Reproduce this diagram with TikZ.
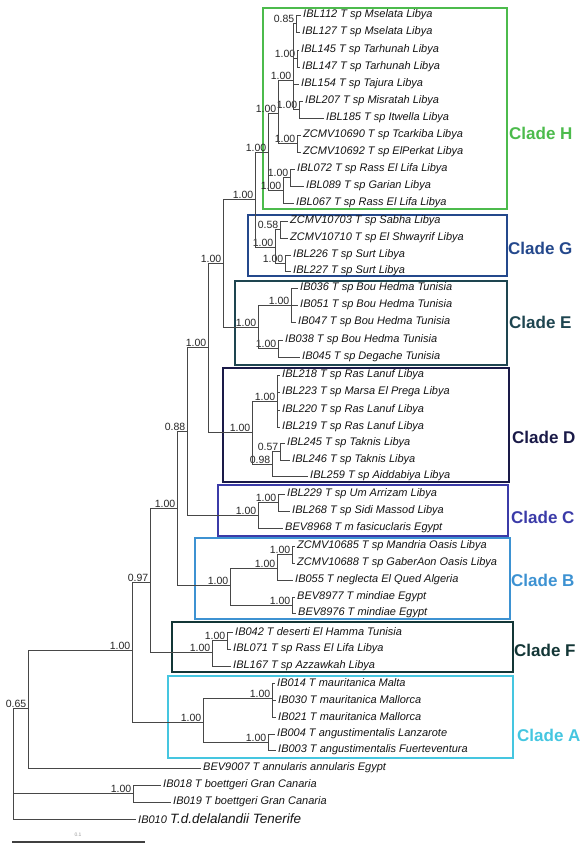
\documentclass[tikz,border=0pt]{standalone}
\usepackage{fontspec}
\setmainfont{Liberation Sans}
\usepackage{tikz}
\usepackage{xcolor}

\definecolor{cladeH}{HTML}{4CBB4C}
\definecolor{cladeG}{HTML}{24488C}
\definecolor{cladeE}{HTML}{1E4550}
\definecolor{cladeD}{HTML}{1A1A48}
\definecolor{cladeC}{HTML}{3B3BA8}
\definecolor{cladeB}{HTML}{3D92D2}
\definecolor{cladeF}{HTML}{133636}
\definecolor{cladeA}{HTML}{45C6E0}

\begin{document}
\begin{tikzpicture}[
    x=1pt, y=-1pt,
    leaf/.style={anchor=west, inner sep=2pt, font=\fontsize{11}{12}\selectfont\itshape, text=black!92},
    support/.style={anchor=south east, inner sep=0.5pt, xshift=-1pt, font=\fontsize{10.5}{11}\selectfont, text=black!85},
    branch/.style={draw=black!72, line width=0.9pt},
    cladebox/.style={draw, line width=1.8pt},
    cladename/.style={anchor=west, inner sep=0pt, font=\fontsize{17}{19}\selectfont\bfseries}
]
\useasboundingbox (0,0) rectangle (582,844);

% clade boxes
\draw[cladebox, cladeH] (263,8) rectangle (507,209);
\draw[cladebox, cladeG] (248,215) rectangle (507,276);
\draw[cladebox, cladeE] (235,281) rectangle (507,365);
\draw[cladebox, cladeD] (223,368) rectangle (509,482);
\draw[cladebox, cladeC] (218,485) rectangle (508,536);
\draw[cladebox, cladeB] (195,538) rectangle (510,619);
\draw[cladebox, cladeF] (172,622) rectangle (513,672);
\draw[cladebox, cladeA] (168,676) rectangle (513,758);

% internal nodes with posterior support
\foreach \n/\x/\y/\v in {root/13/763/{}, n065/28/708/0.65, n100a/132/650/1.00, n097/150/582/0.97,
    n100b/177/508/1.00, n088/187/431/0.88, n100c/208/347/1.00, n100d/223/263/1.00, n100e/255/199/1.00,
    hroot/268/152/1.00, h1/278/113/1.00, h1a/293/80/1.00, hp/296/23.5/0.85, hq/297/58.5/1.00,
    hr/299/109.5/1.00, hz/297/143.5/1.00, h2/283/190.5/1.00, hs/290/177.5/1.00,
    groot/275/247/1.00, ga/280/229.5/0.58, gb/285/263/1.00,
    eroot/258/327/1.00, ea/291/305/1.00, eb/278/348.5/1.00,
    droot/252/432/1.00, da/277/401/1.00, db/272/464/0.98, dc/280/451.5/0.57,
    croot/258/515/1.00, ca/278/502.5/1.00,
    broot/230/585/1.00, ba/277/568/1.00, bc/292/554.5/1.00, bb/292/605/1.00,
    froot/212/652/1.00, fa/227/640/1.00,
    aroot/203/722/1.00, aa/272/698/1.00, ab/268/742/1.00, kb/133/793.5/1.00}
{
    \coordinate (\n) at (\x,\y);
    \node[support] (s-\n) at (\n) {\v};
}

% leaves
\foreach \n/\x/\y/\t in {ibl112/301/15/{IBL112 T sp Mselata Libya}, ibl127/300/32/{IBL127 T sp Mselata Libya},
    ibl145/299/50/{IBL145 T sp Tarhunah Libya}, ibl147/300/67/{IBL147 T sp Tarhunah Libya},
    ibl154/299/84/{IBL154 T sp Tajura Libya}, ibl207/303/101/{IBL207 T sp Misratah Libya},
    ibl185/324/118/{IBL185 T sp Itwella Libya}, zc10690/301/135/{ZCMV10690 T sp Tcarkiba Libya},
    zc10692/301/152/{ZCMV10692 T sp ElPerkat Libya}, ibl072/295/169/{IBL072 T sp Rass El Lifa Libya},
    ibl089/304/186/{IBL089 T sp Garian Libya}, ibl067/294/203/{IBL067 T sp Rass El Lifa Libya},
    zc10703/288/221/{ZCMV10703 T sp Sabha Libya}, zc10710/288/238/{ZCMV10710 T sp El Shwayrif Libya},
    ibl226/291/255/{IBL226 T sp Surt Libya}, ibl227/291/271/{IBL227 T sp Surt Libya},
    ib036/298/288/{IB036 T sp Bou Hedma Tunisia}, ib051/298/305/{IB051 T sp Bou Hedma Tunisia},
    ib047/296/322/{IB047 T sp Bou Hedma Tunisia}, ib038/283/340/{IB038 T sp Bou Hedma Tunisia},
    ib045/300/357/{IB045 T sp Degache Tunisia}, ibl218/280/375/{IBL218 T sp Ras Lanuf Libya},
    ibl223/280/392/{IBL223 T sp Marsa El Prega Libya}, ibl220/280/410/{IBL220 T sp Ras Lanuf Libya},
    ibl219/280/427/{IBL219 T sp Ras Lanuf Libya}, ibl245/285/443/{IBL245 T sp Taknis Libya},
    ibl246/290/460/{IBL246 T sp Taknis Libya}, ibl259/308/476/{IBL259 T sp Aiddabiya Libya},
    ibl229/285/494/{IBL229 T sp Um Arrizam Libya}, ibl268/290/511/{IBL268 T sp Sidi Massod Libya},
    bev8968/283/528/{BEV8968 T m fasicuclaris Egypt}, zc10685/295/546/{ZCMV10685 T sp Mandria Oasis Libya},
    zc10688/295/563/{ZCMV10688 T sp GaberAon Oasis Libya}, ib055/293/580/{IB055 T neglecta El Qued Algeria},
    bev8977/295/597/{BEV8977 T mindiae Egypt}, bev8976/296/613/{BEV8976 T mindiae Egypt},
    ib042/233/632/{IB042 T deserti El Hamma Tunisia}, ibl071/231/649/{IBL071 T sp Rass El Lifa Libya},
    ibl167/231/666/{IBL167 T sp Azzawkah Libya}, ib014/275/683/{IB014 T mauritanica Malta},
    ib030/276/700/{IB030 T mauritanica Mallorca}, ib021/276/717/{IB021 T mauritanica Mallorca},
    ib004/275/734/{IB004 T angustimentalis Lanzarote}, ib003/276/750/{IB003 T angustimentalis Fuerteventura},
    bev9007/201/768/{BEV9007 T annularis annularis Egypt}, ib018/161/785/{IB018 T boettgeri Gran Canaria},
    ib019/171/802/{IB019 T boettgeri Gran Canaria}}
{
    \node[leaf] (\n) at (\x,\y) {\t};
}
\node[leaf] (ib010) at (136,819) {IB010 {\fontsize{13.5}{15}\selectfont T.d.delalandii Tenerife}};

% branches between internal nodes
\foreach \a/\b in {root/n065, n065/n100a, n100a/n097, n100a/aroot, n097/n100b, n097/froot,
    n100b/n088, n100b/broot, n088/n100c, n088/croot, n100c/n100d, n100c/droot,
    n100d/n100e, n100d/eroot, n100e/hroot, n100e/groot, hroot/h1, hroot/h2,
    h1/h1a, h1/hz, h1a/hp, h1a/hq, h1a/hr, h2/hs, groot/ga, groot/gb,
    eroot/ea, eroot/eb, droot/da, droot/db, db/dc, croot/ca,
    broot/ba, broot/bb, ba/bc, froot/fa, aroot/aa, aroot/ab, root/kb}
    \draw[branch] (\a) |- (\b);

% branches to leaves
\foreach \a/\b in {hp/ibl112, hp/ibl127, hq/ibl145, hq/ibl147, h1a/ibl154, hr/ibl207, hr/ibl185,
    hz/zc10690, hz/zc10692, hs/ibl072, hs/ibl089, h2/ibl067, ga/zc10703, ga/zc10710,
    gb/ibl226, gb/ibl227, ea/ib036, ea/ib051, ea/ib047, eb/ib038, eb/ib045,
    da/ibl218, da/ibl223, da/ibl220, da/ibl219, dc/ibl245, dc/ibl246, db/ibl259,
    ca/ibl229, ca/ibl268, croot/bev8968, bc/zc10685, bc/zc10688, ba/ib055,
    bb/bev8977, bb/bev8976, fa/ib042, fa/ibl071, froot/ibl167,
    aa/ib014, aa/ib030, aa/ib021, ab/ib004, ab/ib003,
    n065/bev9007, kb/ib018, kb/ib019, root/ib010}
    \draw[branch] (\a) |- (\b.west);

% clade names
\node[cladename, cladeH] (nameH) at (509,133) {Clade H};
\node[cladename, cladeG] (nameG) at (508,248) {Clade G};
\node[cladename, cladeE] (nameE) at (509,322) {Clade E};
\node[cladename, cladeD] (nameD) at (512,437) {Clade D};
\node[cladename, cladeC] (nameC) at (511,517) {Clade C};
\node[cladename, cladeB] (nameB) at (511,580) {Clade B};
\node[cladename, cladeF] (nameF) at (514,650) {Clade F};
\node[cladename, cladeA] (nameA) at (517,735) {Clade A};

% scale bar
\coordinate (sb1) at (12,842);
\coordinate (sb2) at (145,842);
\draw[black!75, line width=1.5pt] (sb1) -- (sb2);
\node[font=\fontsize{5}{6}\selectfont, text=black!40, inner sep=0.5pt] (sblabel) at (78,835) {0.1};

\end{tikzpicture}
\end{document}
